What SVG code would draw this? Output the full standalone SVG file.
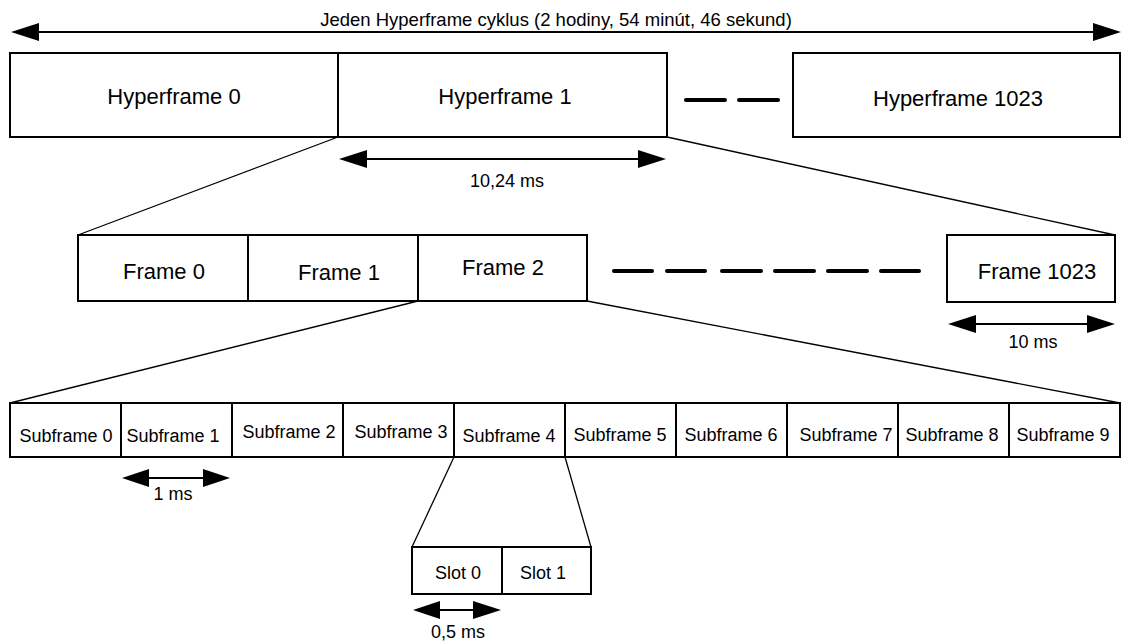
<svg xmlns="http://www.w3.org/2000/svg" width="1122" height="643" viewBox="0 0 1122 643">
<defs>
<style>
.box{fill:#fff;stroke:#000;stroke-width:2}
.t{font-family:"Liberation Sans",Arial,sans-serif;fill:#000;text-anchor:middle}
.big{font-size:22px}
.sm{font-size:18px}
.conn{stroke:#000;stroke-width:1.3;fill:none}
.arr{stroke:#000;stroke-width:2;fill:none}
.dash{stroke:#000;stroke-width:4;stroke-linecap:round}
.head{fill:#000}
</style>
</defs>
<rect width="1122" height="643" fill="#fff"/>
<g id="connectors">
<line class="conn" x1="338" y1="137" x2="78" y2="235"/>
<line class="conn" x1="667" y1="137" x2="1115" y2="235"/>
<line class="conn" x1="418" y1="301" x2="10" y2="403"/>
<line class="conn" x1="587" y1="301" x2="1120" y2="403"/>
<line class="conn" x1="454" y1="457" x2="412" y2="547"/>
<line class="conn" x1="565" y1="457" x2="591" y2="547"/>
</g>
<g id="total-span">
<line class="arr" x1="35" y1="32" x2="1095" y2="32"/>
<polygon class="head" points="11,32 39,23 39,41"/>
<polygon class="head" points="1121,32 1093,23 1093,41"/>
<text class="t" x="556" y="26" style="font-size:18.5px">Jeden Hyperframe cyklus (2 hodiny, 54 minút, 46 sekund)</text>
</g>
<g id="hf0"><rect class="box" x="10" y="53" width="328" height="84"/><text class="t big" x="174" y="104">Hyperframe 0</text></g>
<g id="hf1"><rect class="box" x="338" y="53" width="329" height="84"/><text class="t big" x="505" y="104">Hyperframe 1</text></g>
<g id="hf-dots"><line class="dash" x1="686" y1="100" x2="725" y2="100"/><line class="dash" x1="739" y1="100" x2="778" y2="100"/></g>
<g id="hf1023"><rect class="box" x="793" y="53" width="327" height="84"/><text class="t big" x="958" y="106">Hyperframe 1023</text></g>
<g id="span-hf">
<line class="arr" x1="362" y1="159" x2="642" y2="159"/>
<polygon class="head" points="339,159 367,150 367,168"/>
<polygon class="head" points="666,159 638,150 638,168"/>
<text class="t sm" x="507" y="187">10,24 ms</text>
</g>
<g id="f0"><rect class="box" x="78" y="235" width="170" height="66"/><text class="t big" x="164" y="279">Frame 0</text></g>
<g id="f1"><rect class="box" x="248" y="235" width="170" height="66"/><text class="t big" x="339" y="280">Frame 1</text></g>
<g id="f2"><rect class="box" x="418" y="235" width="169" height="66"/><text class="t big" x="503" y="275">Frame 2</text></g>
<g id="f-dots">
<line class="dash" x1="614" y1="271" x2="652" y2="271"/>
<line class="dash" x1="667" y1="271" x2="705" y2="271"/>
<line class="dash" x1="722" y1="271" x2="761" y2="271"/>
<line class="dash" x1="775" y1="271" x2="814" y2="271"/>
<line class="dash" x1="828" y1="271" x2="867" y2="271"/>
<line class="dash" x1="881" y1="271" x2="919" y2="271"/>
</g>
<g id="f1023"><rect class="box" x="947" y="235" width="168" height="67"/><text class="t big" x="1037" y="279">Frame 1023</text></g>
<g id="span-f">
<line class="arr" x1="970" y1="324" x2="1093" y2="324"/>
<polygon class="head" points="948,324 976,315 976,333"/>
<polygon class="head" points="1115,324 1087,315 1087,333"/>
<text class="t sm" x="1033" y="348">10 ms</text>
</g>
<g id="sf0"><rect class="box" x="10" y="403" width="111" height="54"/><text class="t sm" x="66" y="442">Subframe 0</text></g>
<g id="sf1"><rect class="box" x="121" y="403" width="111" height="54"/><text class="t sm" x="173" y="442">Subframe 1</text></g>
<g id="sf2"><rect class="box" x="232" y="403" width="111" height="54"/><text class="t sm" x="289" y="438">Subframe 2</text></g>
<g id="sf3"><rect class="box" x="343" y="403" width="111" height="54"/><text class="t sm" x="401" y="438">Subframe 3</text></g>
<g id="sf4"><rect class="box" x="454" y="403" width="111" height="54"/><text class="t sm" x="509" y="442">Subframe 4</text></g>
<g id="sf5"><rect class="box" x="565" y="403" width="111" height="54"/><text class="t sm" x="620" y="441">Subframe 5</text></g>
<g id="sf6"><rect class="box" x="676" y="403" width="111" height="54"/><text class="t sm" x="731" y="441">Subframe 6</text></g>
<g id="sf7"><rect class="box" x="787" y="403" width="111" height="54"/><text class="t sm" x="846" y="441">Subframe 7</text></g>
<g id="sf8"><rect class="box" x="898" y="403" width="111" height="54"/><text class="t sm" x="952" y="441">Subframe 8</text></g>
<g id="sf9"><rect class="box" x="1009" y="403" width="111" height="54"/><text class="t sm" x="1063" y="441">Subframe 9</text></g>
<g id="span-sf">
<line class="arr" x1="144" y1="478" x2="208" y2="478"/>
<polygon class="head" points="122,478 149,469 149,487"/>
<polygon class="head" points="230,478 203,469 203,487"/>
<text class="t sm" x="173" y="500">1 ms</text>
</g>
<g id="slot0"><rect class="box" x="412" y="547" width="90" height="47"/><text class="t sm" x="458" y="579">Slot 0</text></g>
<g id="slot1"><rect class="box" x="502" y="547" width="89" height="47"/><text class="t sm" x="543" y="579">Slot 1</text></g>
<g id="span-slot">
<line class="arr" x1="436" y1="610" x2="478" y2="610"/>
<polygon class="head" points="413,610 440,601 440,619"/>
<polygon class="head" points="501,610 473,601 473,619"/>
<text class="t sm" x="458" y="638">0,5 ms</text>
</g>
</svg>
